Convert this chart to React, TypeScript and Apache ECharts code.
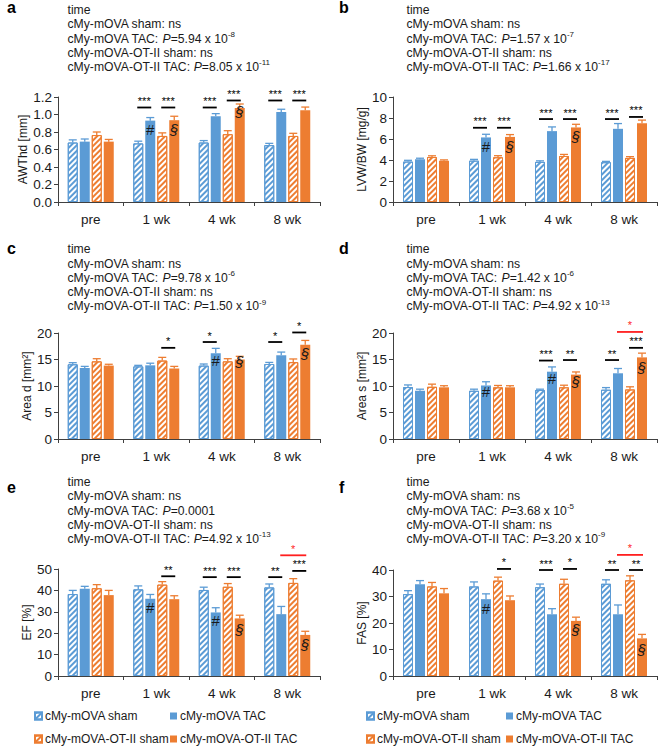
import React, { useEffect, useRef } from 'react';
import * as echarts from 'echarts';

const FONT = '"Liberation Sans", Arial, sans-serif';
const TXT = '#1a1a1a';
const AX = '#404040';

const categories = ['pre', '1 wk', '4 wk', '8 wk'];
const groupNames = ['cMy-mOVA sham', 'cMy-mOVA TAC', 'cMy-mOVA-OT-II sham', 'cMy-mOVA-OT-II TAC'];

// a: AWThd [mm]  (rows: sham, TAC, OT-II sham, OT-II TAC; columns: pre, 1wk, 4wk, 8wk)
const awthdMean = [[0.68, 0.67, 0.68, 0.65], [0.69, 0.93, 0.98, 1.03], [0.765, 0.755, 0.775, 0.755], [0.69, 0.935, 1.075, 1.05]];
const awthdSem = [[0.03, 0.025, 0.022, 0.02], [0.03, 0.035, 0.03, 0.03], [0.035, 0.035, 0.04, 0.03], [0.025, 0.045, 0.045, 0.035]];
// b: LVW/BW [mg/g]
const lvwMean = [[3.85, 3.94, 3.82, 3.79], [4.07, 6.15, 6.75, 6.97], [4.28, 4.26, 4.38, 4.2], [3.93, 6.2, 7.1, 7.5]];
const lvwSem = [[0.12, 0.12, 0.1, 0.08], [0.1, 0.3, 0.4, 0.5], [0.12, 0.15, 0.15, 0.12], [0.08, 0.22, 0.3, 0.3]];
// c: Area d [mm2]
const areaDMean = [[14.1, 13.7, 13.85, 14.15], [13.4, 13.9, 16.2, 15.8], [14.65, 14.8, 14.65, 14.5], [13.85, 13.3, 15.0, 17.8]];
const areaDSem = [[0.3, 0.2, 0.3, 0.3], [0.3, 0.4, 0.9, 0.6], [0.5, 0.6, 0.5, 0.6], [0.25, 0.4, 0.6, 0.8]];
// d: Area s [mm2]
const areaSMean = [[9.8, 9.1, 9.25, 9.3], [9.1, 10.1, 12.7, 12.4], [9.85, 9.75, 9.75, 9.35], [9.75, 9.75, 12.15, 15.4]];
const areaSSem = [[0.4, 0.3, 0.15, 0.4], [0.3, 0.7, 0.9, 0.9], [0.5, 0.35, 0.4, 0.5], [0.3, 0.3, 0.5, 0.8]];
// e: EF [%]
const efMean = [[38.3, 40.5, 40.2, 41.4], [40.8, 36.1, 29.7, 28.9], [41.0, 42.7, 41.7, 43.5], [37.8, 35.9, 26.9, 19.2]];
const efSem = [[1.7, 1.6, 1.3, 1.6], [1.1, 2.0, 2.2, 3.6], [1.7, 1.4, 1.5, 2.0], [2.2, 1.6, 1.5, 1.7]];
// f: FAS [%]
const fasMean = [[30.9, 33.8, 33.5, 34.8], [34.6, 29.0, 23.3, 23.3], [33.8, 36.0, 34.8, 36.1], [31.2, 28.6, 20.8, 14.2]];
const fasSem = [[1.3, 1.7, 1.2, 1.5], [1.4, 2.0, 2.1, 3.5], [1.5, 1.3, 1.7, 1.7], [1.8, 1.6, 1.4, 1.5]];

// significance brackets: [category, fromBar, toBar, yValue, stars, red(1)/black(0)]
const awthdBrackets = [[1, 0, 1, 1.08, '***', 0], [1, 2, 3, 1.08, '***', 0], [2, 0, 1, 1.08, '***', 0], [2, 2, 3, 1.16, '***', 0], [3, 0, 1, 1.16, '***', 0], [3, 2, 3, 1.16, '***', 0]];
const lvwBrackets = [[1, 0, 1, 7.07, '***', 0], [1, 2, 3, 7.07, '***', 0], [2, 0, 1, 7.9, '***', 0], [2, 2, 3, 7.9, '***', 0], [3, 0, 1, 7.9, '***', 0], [3, 2, 3, 8.1, '***', 0]];
const areaDBrackets = [[1, 2, 3, 17.2, '*', 0], [2, 0, 1, 18.3, '*', 0], [3, 0, 1, 18.3, '*', 0], [3, 2, 3, 20.1, '*', 0]];
const areaSBrackets = [[2, 0, 1, 14.8, '***', 0], [2, 2, 3, 14.9, '**', 0], [3, 0, 1, 14.9, '**', 0], [3, 2, 3, 17.2, '***', 0], [3, 1, 3, 20.2, '*', 1]];
const efBrackets = [[1, 2, 3, 46.6, '**', 0], [2, 0, 1, 46.2, '***', 0], [2, 2, 3, 46.2, '***', 0], [3, 0, 1, 46.2, '**', 0], [3, 2, 3, 49.1, '***', 0], [3, 1, 3, 56.4, '*', 1]];
const fasBrackets = [[1, 2, 3, 40.4, '*', 0], [2, 0, 1, 40.0, '***', 0], [2, 2, 3, 40.4, '*', 0], [3, 0, 1, 40.0, '**', 0], [3, 2, 3, 40.0, '**', 0], [3, 1, 3, 45.7, '*', 1]];

// in-bar markers: [category, bar, yValue, symbol]
const awthdMarkers = [[1, 1, 0.83, '#'], [1, 3, 0.83, '§'], [2, 3, 1.03, '§']];
const lvwMarkers = [[1, 1, 5.3, '#'], [1, 3, 5.3, '§'], [2, 3, 6.2, '§']];
const areaDMarkers = [[2, 1, 14.8, '#'], [2, 3, 14.6, '§'], [3, 3, 16.2, '§']];
const areaSMarkers = [[1, 1, 9.0, '#'], [2, 1, 11.4, '#'], [2, 3, 10.9, '§'], [3, 3, 13.4, '§']];
const efMarkers = [[1, 1, 32.2, '#'], [2, 1, 26.0, '#'], [2, 3, 21.9, '§'], [3, 3, 14.5, '§']];
const fasMarkers = [[1, 1, 25.3, '#'], [2, 3, 17.6, '§'], [3, 3, 10.1, '§']];

// time effect P values: [TAC mantissa, TAC exponent, OT-II TAC mantissa, OT-II TAC exponent]
const awthdP = ['5.94', '-8', '8.05', '-11'];
const lvwP = ['1.57', '-7', '1.66', '-17'];
const areaDP = ['9.78', '-6', '1.50', '-9'];
const areaSP = ['1.42', '-6', '4.92', '-13'];
const efP = ['0.0001', '', '4.92', '-13'];
const fasP = ['3.68', '-5', '3.20', '-9'];

const yNames = ['AWThd [mm]', 'LVW/BW [mg/g]', 'Area d [mm²]', 'Area s [mm²]', 'EF [%]', 'FAS [%]'];
const yMax = [1.2, 10, 20, 20, 50, 40];
const yInterval = [0.2, 2, 5, 5, 10, 10];
const panelLetters = ['a', 'b', 'c', 'd', 'e', 'f'];

const COLORS = ['#5B9BD5', '#5B9BD5', '#ED7D31', '#ED7D31'];
const OFFSETS = [-18, -6, 6, 18];

const layout = [
  { left: 58, top: 97, width: 262, height: 105, gap: 28, tx: 67.5, ty: 3, lx: 7, ly: 7.8 },
  { left: 393, top: 97, width: 264, height: 105, gap: 23, tx: 406.5, ty: 3, lx: 339, ly: 7.8 },
  { left: 58, top: 333, width: 262, height: 106, gap: 22, tx: 67.5, ty: 242.4, lx: 7, ly: 248.5 },
  { left: 393, top: 333, width: 264, height: 106, gap: 23, tx: 406.5, ty: 242.4, lx: 339, ly: 248.5 },
  { left: 58, top: 569, width: 262, height: 107, gap: 21, tx: 67.5, ty: 475, lx: 7, ly: 487.5 },
  { left: 393, top: 570, width: 264, height: 106, gap: 23, tx: 406.5, ty: 475, lx: 339, ly: 487.5 },
];

const means = [awthdMean, lvwMean, areaDMean, areaSMean, efMean, fasMean];
const sems = [awthdSem, lvwSem, areaDSem, areaSSem, efSem, fasSem];
const brackets = [awthdBrackets, lvwBrackets, areaDBrackets, areaSBrackets, efBrackets, fasBrackets];
const markers = [awthdMarkers, lvwMarkers, areaDMarkers, areaSMarkers, efMarkers, fasMarkers];
const pvals = [awthdP, lvwP, areaDP, areaSP, efP, fasP];

function pText(m: string, e: string) {
  return e ? `{i|P}=${m} x 10{s|${e}}` : `{i|P}=${m}`;
}

function hatchStyle(color: string) {
  return {
    color: '#ffffff',
    borderColor: color,
    borderWidth: 1,
    decal: {
      symbol: 'rect',
      symbolSize: 1,
      color: color,
      backgroundColor: '#ffffff',
      dashArrayX: [1, 0],
      dashArrayY: [2, 1.6],
      rotation: -Math.PI / 4,
    },
  };
}

function buildOption() {
  const grid: any[] = [];
  const xAxis: any[] = [];
  const yAxis: any[] = [];
  const series: any[] = [];
  const graphic: any[] = [];

  layout.forEach((L, i) => {
    grid.push({ left: L.left, top: L.top, width: L.width, height: L.height, containLabel: false });
    xAxis.push({
      type: 'category', gridIndex: i, data: categories,
      axisLine: { show: true, lineStyle: { color: AX, width: 1 } },
      axisTick: { show: true, length: 4, lineStyle: { color: AX } },
      axisLabel: { fontSize: 13.5, color: TXT, margin: 10, fontFamily: FONT },
      splitLine: { show: false },
    });
    const dec = yInterval[i] < 1 ? 1 : 0;
    yAxis.push({
      type: 'value', gridIndex: i, min: 0, max: yMax[i], interval: yInterval[i],
      name: yNames[i], nameLocation: 'middle', nameGap: L.gap,
      nameTextStyle: { fontSize: 12, color: TXT, fontFamily: FONT },
      axisLine: { show: true, lineStyle: { color: AX, width: 1 } },
      axisTick: { show: true, length: 4, lineStyle: { color: AX } },
      axisLabel: { fontSize: 13.5, color: TXT, margin: 6, fontFamily: FONT, formatter: (v: number) => v.toFixed(dec) },
      splitLine: { show: false },
    });

    groupNames.forEach((name, g) => {
      series.push({
        type: 'bar', name, xAxisIndex: i, yAxisIndex: i,
        data: means[i][g], barWidth: 10, barGap: '20%',
        itemStyle: g % 2 === 0 ? hatchStyle(COLORS[g]) : { color: COLORS[g] },
        emphasis: { disabled: true },
      });
    });

    const errData: number[][] = [];
    for (let g = 0; g < 4; g++) for (let c = 0; c < 4; c++) errData.push([c, means[i][g][c], sems[i][g][c], g]);
    series.push({
      type: 'custom', xAxisIndex: i, yAxisIndex: i, z: 5, encode: { x: 0, y: 1 },
      data: errData,
      renderItem: (params: any, api: any) => {
        const c = api.value(0), m = api.value(1), s = api.value(2), g = api.value(3);
        const base = api.coord([c, m]);
        const top = api.coord([c, m + s]);
        const x = base[0] + OFFSETS[g];
        const st = { stroke: COLORS[g], lineWidth: 1.3 };
        return {
          type: 'group', children: [
            { type: 'line', shape: { x1: x, y1: base[1], x2: x, y2: top[1] }, style: st },
            { type: 'line', shape: { x1: x - 4, y1: top[1], x2: x + 4, y2: top[1] }, style: st },
          ],
        };
      },
    });

    const br = brackets[i];
    series.push({
      type: 'custom', xAxisIndex: i, yAxisIndex: i, z: 6, encode: { x: 0, y: 1 },
      data: br.map((b: any) => [b[0], b[3]]),
      renderItem: (params: any, api: any) => {
        const b: any = br[params.dataIndex];
        const p = api.coord([b[0], b[3]]);
        const x1 = p[0] + OFFSETS[b[1]] - 1;
        const x2 = p[0] + OFFSETS[b[2]] + 1;
        const col = b[5] ? '#FF1F1F' : '#000000';
        return {
          type: 'group', children: [
            { type: 'line', shape: { x1, y1: p[1], x2, y2: p[1] }, style: { stroke: col, lineWidth: 1.8 } },
            { type: 'text', x: (x1 + x2) / 2, y: p[1] - 1, style: { text: b[4], fill: col, fontSize: 11, fontFamily: FONT, align: 'center', verticalAlign: 'bottom' } },
          ],
        };
      },
    });

    const mk = markers[i];
    series.push({
      type: 'custom', xAxisIndex: i, yAxisIndex: i, z: 7, encode: { x: 0, y: 1 },
      data: mk.map((m: any) => [m[0], m[2]]),
      renderItem: (params: any, api: any) => {
        const m: any = mk[params.dataIndex];
        const p = api.coord([m[0], m[2]]);
        return {
          type: 'text', x: p[0] + OFFSETS[m[1]], y: p[1],
          style: { text: m[3], fill: '#1a1a1a', fontSize: 15, fontStyle: m[3] === '§' ? 'italic' : 'normal', fontFamily: FONT, align: 'center', verticalAlign: 'middle' },
        };
      },
    });

    const P = pvals[i];
    const lines = [
      'time',
      'cMy-mOVA sham: ns',
      'cMy-mOVA TAC: ' + pText(P[0], P[1]),
      'cMy-mOVA-OT-II sham: ns',
      'cMy-mOVA-OT-II TAC: ' + pText(P[2], P[3]),
    ];
    graphic.push({
      type: 'text', x: L.tx, y: L.ty, z: 10,
      style: {
        text: lines.join('\n'), fill: TXT, fontSize: 12.2, fontFamily: FONT, lineHeight: 14.2,
        verticalAlign: 'top', align: 'left',
        rich: {
          i: { fontStyle: 'italic', fontSize: 12.2, fontFamily: FONT, fill: TXT },
          s: { fontSize: 8, fontFamily: FONT, height: 6, verticalAlign: 'top', fill: TXT },
        },
      },
    });
    graphic.push({
      type: 'text', x: L.lx, y: L.ly, z: 10,
      style: { text: panelLetters[i], fill: '#000', fontSize: 16, fontWeight: 'bold', fontFamily: FONT, verticalAlign: 'middle', align: 'left' },
    });
  });

  const legendBase = {
    orient: 'vertical', top: 710, height: 80, itemGap: 11, itemWidth: 7, itemHeight: 7, icon: 'rect',
    selectedMode: false, padding: 0, textStyle: { fontSize: 12, color: TXT, fontFamily: FONT, padding: [0, 0, 0, -2] },
  };
  const legend = [
    { ...legendBase, left: 34, data: [groupNames[0], groupNames[2]] },
    { ...legendBase, left: 170, data: [groupNames[1], groupNames[3]] },
    { ...legendBase, left: 366, data: [groupNames[0], groupNames[2]] },
    { ...legendBase, left: 506, data: [groupNames[1], groupNames[3]] },
  ];

  return {
    animation: false,
    textStyle: { fontFamily: FONT },
    grid, xAxis, yAxis, series, graphic, legend,
  };
}

export default function App() {
  const ref = useRef<HTMLDivElement>(null);
  useEffect(() => {
    if (!ref.current) return;
    const chart = echarts.init(ref.current, undefined, { renderer: 'svg' });
    chart.setOption(buildOption() as any);
    return () => chart.dispose();
  }, []);
  return (
    <div
      ref={ref}
      style={{ position: 'absolute', left: 0, top: 0, width: 660, height: 748, background: '#ffffff' }}
    />
  );
}
